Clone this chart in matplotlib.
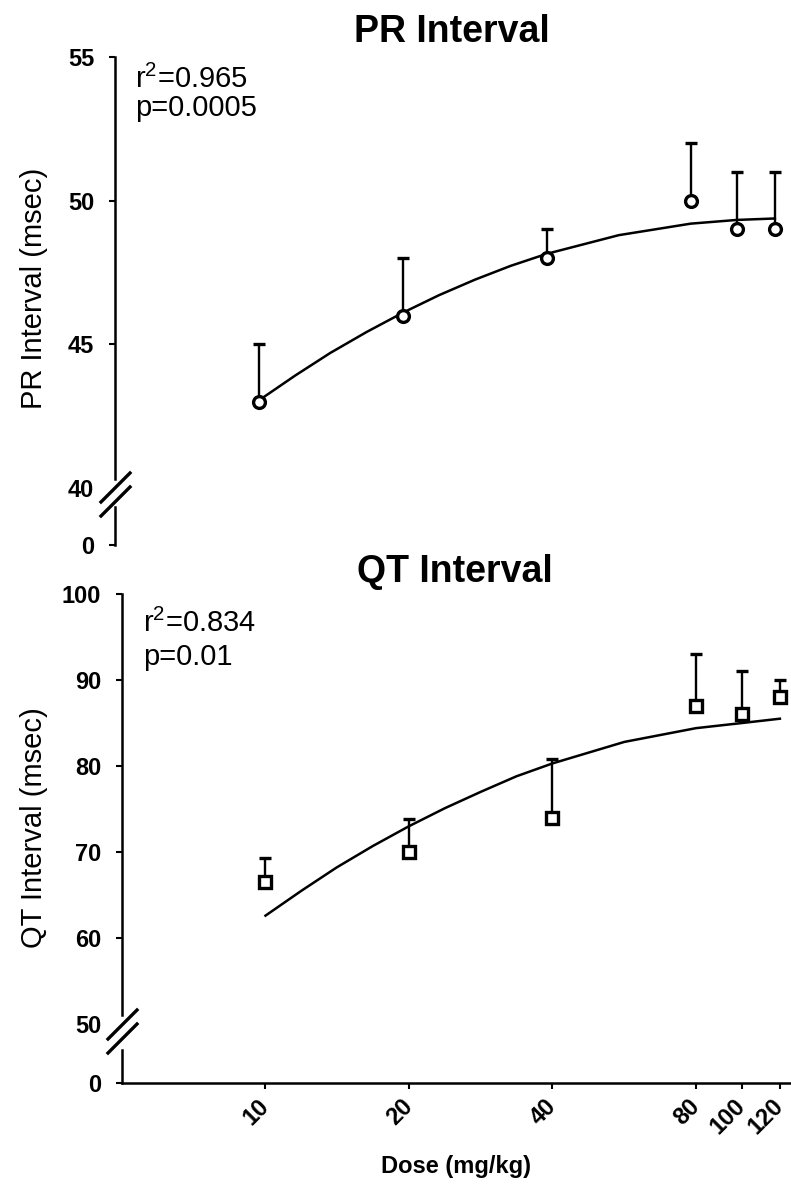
import numpy as np
import matplotlib
matplotlib.use("Agg")
import matplotlib.pyplot as plt
from matplotlib.lines import Line2D
from matplotlib.ticker import FixedLocator, NullLocator, FixedFormatter

plt.rcParams['font.family'] = ['Liberation Sans', 'DejaVu Sans']
plt.rcParams['mathtext.fontset'] = 'custom'
plt.rcParams['mathtext.rm'] = 'Liberation Sans'
plt.rcParams['mathtext.it'] = 'Liberation Sans'

# ---- data ----
dose = [10, 20, 40, 80, 100, 120]
dose_ticks = [10, 20, 40, 80, 100, 120]
dose_labels = ['10', '20', '40', '80', '100', '120']

pr_mean = [43.0, 46.0, 48.0, 50.0, 49.0, 49.0]
pr_err = [2.0, 2.0, 1.0, 2.0, 2.0, 2.0]
qt_mean = [66.5, 70.0, 74.0, 87.0, 86.0, 88.0]
qt_err = [2.8, 3.8, 6.8, 6.0, 5.0, 2.0]

# fitted curves
fit_dose = [10, 11.9, 14.1, 16.8, 20, 23.8, 28.3, 33.6, 40, 56.6, 80, 100, 120]
pr_fit = [43.05, 43.91, 44.70, 45.43, 46.10, 46.71, 47.25, 47.73, 48.15,
          48.80, 49.20, 49.33, 49.38]
qt_fit = [62.6, 65.5, 68.2, 70.7, 73.0, 75.1, 77.0, 78.8, 80.3,
          82.8, 84.4, 85.0, 85.5]

W, H = 791, 1185
fig = plt.figure(figsize=(W / 100, H / 100), dpi=100)


def fx(px):
    return px / W


def fy(py):
    return 1 - py / H


def style_axis(ax):
    ax.tick_params(axis='y', direction='out', length=4, width=1.5, pad=11,
                   labelsize=17)
    for lab in ax.get_yticklabels():
        lab.set_fontweight('bold')
    for s in ['top', 'right']:
        ax.spines[s].set_visible(False)
    ax.spines['left'].set_linewidth(1.8)


def add_break(x_spine, y_mid):
    # two slanted strokes crossing the y spine
    for dy in (-7, 7):
        fig.add_artist(Line2D([fx(x_spine - 14), fx(x_spine + 15)],
                              [fy(y_mid + dy + 14), fy(y_mid + dy - 15)],
                              transform=fig.transFigure, color='black', lw=2.4))


xlim = (5, 126)

# ============== PR panel ==============
x0_top = 115
ax1 = fig.add_axes([fx(x0_top), fy(488), fx(670), (488 - 57) / H])
ax1.set_xscale('log')
ax1.set_xlim(*xlim)
ax1.set_ylim(40, 55)
ax1.yaxis.set_major_locator(FixedLocator([40, 45, 50, 55]))
ax1.xaxis.set_major_locator(NullLocator())
ax1.xaxis.set_minor_locator(NullLocator())
ax1.spines['bottom'].set_visible(False)
style_axis(ax1)
ax1.spines['left'].set_bounds(40.3, 55)
ax1.yaxis.get_major_ticks()[0].tick1line.set_visible(False)

ax1.plot(fit_dose, pr_fit, color='black', lw=1.8, zorder=2)
ax1.errorbar(dose, pr_mean, yerr=[np.zeros(len(pr_err)), pr_err], fmt='o',
             mfc='white', mec='black', mew=2.4, ms=8.5, ecolor='black',
             elinewidth=1.7, capsize=4, capthick=2.2, zorder=3)
ax1.set_ylabel('PR Interval (msec)', fontsize=21)
ax1.yaxis.set_label_coords((48 - x0_top) / 670, 0.464)
fig.text(fx(135), fy(88), r'r$^2$=0.965', fontsize=21, va='baseline', ha='left')
fig.text(fx(135), fy(116), 'p=0.0005', fontsize=21, va='baseline', ha='left')
fig.text(fx(452), fy(32), 'PR Interval', fontsize=27, fontweight='bold',
         ha='center', va='center')

ax1b = fig.add_axes([fx(x0_top), fy(545), fx(670), 38 / H])
ax1b.set_xscale('log')
ax1b.set_xlim(*xlim)
ax1b.set_ylim(0, 1)
ax1b.yaxis.set_major_locator(FixedLocator([0]))
ax1b.xaxis.set_major_locator(NullLocator())
ax1b.xaxis.set_minor_locator(NullLocator())
ax1b.spines['bottom'].set_visible(False)
ax1b.patch.set_visible(False)
style_axis(ax1b)
add_break(x0_top, 495)

# ============== QT panel ==============
x0_bot = 122
ax2 = fig.add_axes([fx(x0_bot), fy(1024), fx(668), (1024 - 594) / H])
ax2.set_xscale('log')
ax2.set_xlim(*xlim)
ax2.set_ylim(50, 100)
ax2.yaxis.set_major_locator(FixedLocator([50, 60, 70, 80, 90, 100]))
ax2.xaxis.set_major_locator(NullLocator())
ax2.xaxis.set_minor_locator(NullLocator())
ax2.spines['bottom'].set_visible(False)
style_axis(ax2)
ax2.spines['left'].set_bounds(51.0, 100)
ax2.yaxis.get_major_ticks()[0].tick1line.set_visible(False)

ax2.plot(fit_dose, qt_fit, color='black', lw=1.8, zorder=2)
ax2.errorbar(dose, qt_mean, yerr=[np.zeros(len(qt_err)), qt_err], fmt='s',
             mfc='white', mec='black', mew=2.4, ms=8.5, ecolor='black',
             elinewidth=1.7, capsize=4, capthick=2.2, zorder=3)
ax2.set_ylabel('QT Interval (msec)', fontsize=21)
ax2.yaxis.set_label_coords((48 - x0_bot) / 668, 0.456)
fig.text(fx(143), fy(632), r'r$^2$=0.834', fontsize=21, va='baseline', ha='left')
fig.text(fx(143), fy(665), 'p=0.01', fontsize=21, va='baseline', ha='left')
fig.text(fx(455), fy(572), 'QT Interval', fontsize=27, fontweight='bold',
         ha='center', va='center')

ax2b = fig.add_axes([fx(x0_bot), fy(1083), fx(668), 33 / H])
ax2b.set_xscale('log')
ax2b.set_xlim(*xlim)
ax2b.set_ylim(0, 1)
ax2b.yaxis.set_major_locator(FixedLocator([0]))
ax2b.patch.set_visible(False)
style_axis(ax2b)
ax2b.spines['bottom'].set_linewidth(1.8)
ax2b.xaxis.set_major_locator(FixedLocator(dose_ticks))
ax2b.xaxis.set_major_formatter(FixedFormatter(dose_labels))
ax2b.xaxis.set_minor_locator(NullLocator())
ax2b.tick_params(axis='x', direction='out', length=4, width=1.5, pad=10,
                 labelsize=17)
for lab in ax2b.get_xticklabels():
    lab.set_fontweight('bold')
    lab.set_rotation(45)
    lab.set_ha('right')
    lab.set_va('center')
    lab.set_rotation_mode('anchor')
ax2b.set_xlabel('Dose (mg/kg)', fontsize=17, fontweight='bold')
ax2b.xaxis.set_label_coords(0.5, (1083 - 1155) / 33)
add_break(x0_bot, 1032)

fig.savefig('out.png', dpi=100)
